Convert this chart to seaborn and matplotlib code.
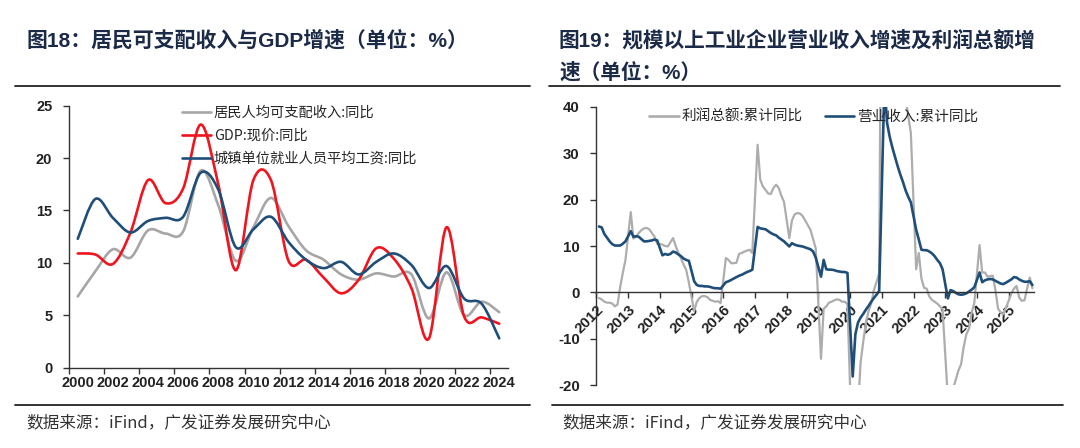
import numpy as np
import pandas as pd
import seaborn as sns
import matplotlib.pyplot as plt
from matplotlib.path import Path
from matplotlib.patches import PathPatch
from matplotlib.lines import Line2D

# ---- left chart: annual growth, %
years = list(range(2000, 2025))
income = [6.8, 9.2, 11.3, 10.5, 13.1, 12.8, 13.0, 18.8, 15.5, 10.2, 13.4, 16.2, 13.5,
          11.2, 10.3, 8.9, 8.4, 9.0, 8.7, 8.9, 4.7, 9.1, 5.0, 6.3, 5.3]
gdp = [10.9, 10.8, 9.9, 12.9, 17.9, 15.7, 17.1, 23.2, 17.5, 9.3, 17.9, 17.9, 10.2,
       10.3, 8.6, 7.1, 8.4, 11.4, 10.4, 7.6, 2.8, 13.4, 4.9, 4.8, 4.2]
wage = [12.3, 16.1, 14.3, 12.9, 14.0, 14.3, 14.4, 18.6, 17.0, 11.5, 13.2, 14.4, 12.0,
        10.3, 9.5, 10.1, 8.9, 10.1, 10.9, 9.8, 7.6, 9.7, 6.6, 6.1, 2.8]
left_names = ['居民人均可支配收入:同比', 'GDP:现价:同比', '城镇单位就业人员平均工资:同比']
left_colors = ['#A6A6A6', '#F0141E', '#1F4E79']

# ---- right chart: cumulative yoy, %, one list per year (Jan-Feb, Mar ... Dec)
months = list(range(2, 13))
revenue = {
    2012: [14.2, 14.0, 12.6, 11.8, 11.0, 10.4, 10.1, 10.1, 10.1, 10.5, 11.0],
    2013: [13.2, 12.0, 12.1, 12.0, 11.5, 11.0, 11.0, 11.1, 11.2, 11.4, 11.2],
    2014: [8.0, 8.3, 8.1, 8.3, 8.8, 8.6, 8.2, 7.8, 7.3, 7.0, 6.8],
    2015: [2.4, 1.6, 1.4, 1.4, 1.3, 1.3, 1.2, 1.0, 0.9, 0.9, 0.8],
    2016: [2.2, 2.4, 2.7, 3.0, 3.3, 3.6, 3.8, 4.1, 4.4, 4.6, 4.9],
    2017: [14.1, 13.8, 13.7, 13.6, 13.2, 12.8, 12.5, 12.3, 11.8, 11.4, 11.0],
    2018: [9.9, 10.6, 10.3, 10.1, 10.0, 9.9, 9.7, 9.5, 9.3, 8.8, 7.5],
    2019: [3.4, 7.0, 5.0, 4.9, 4.9, 4.8, 4.6, 4.5, 4.4, 4.4, 4.2],
    2020: [-18.1, -9.0, -6.5, -5.4, -4.6, -3.7, -2.9, -2.0, -1.2, -0.5, 0.3],
    2021: [45.0, 36.5, 33.5, 31.2, 29.2, 27.2, 25.4, 23.8, 22.0, 20.6, 19.4],
    2022: [13.5, 11.4, 9.2, 9.1, 9.1, 8.8, 8.4, 7.8, 7.0, 6.3, 5.0],
    2023: [-1.3, 0.5, 0.3, -0.1, -0.4, -0.5, -0.4, -0.2, 0.2, 0.6, 1.1],
    2024: [4.3, 2.2, 2.6, 2.8, 2.9, 2.8, 2.5, 2.2, 1.9, 1.8, 2.1],
    2025: [2.8, 3.3, 3.2, 2.8, 2.5, 2.3, 2.3, 2.4, 1.6],
}
profit = {
    2012: [-1.2, -1.5, -2.0, -2.2, -2.2, -2.4, -3.0, -2.6, 1.2, 4.2, 7.0],
    2013: [17.3, 11.6, 12.0, 12.8, 13.4, 13.8, 13.9, 13.6, 12.8, 12.0, 10.5],
    2014: [10.3, 10.0, 9.9, 10.8, 11.7, 10.0, 8.5, 7.4, 6.0, 4.8, 2.1],
    2015: [-4.0, -2.0, -1.2, -0.8, -0.8, -1.0, -1.6, -1.8, -2.0, -1.9, -2.3],
    2016: [7.4, 7.0, 6.3, 6.3, 6.4, 8.3, 8.5, 8.8, 9.0, 9.2, 8.5],
    2017: [31.8, 24.3, 22.8, 22.1, 21.3, 21.2, 22.5, 23.2, 22.5, 20.8, 19.5],
    2018: [11.7, 15.5, 16.8, 17.1, 17.0, 16.5, 15.5, 14.5, 13.5, 11.5, 9.5],
    2019: [-14.3, -3.5, -3.0, -2.2, -2.0, -1.7, -1.5, -1.6, -2.0, -2.0, -2.5],
    2020: [-38.3, -36.7, -25.0, -15.0, -10.5, -6.5, -4.0, -2.4, 0.5, 2.2, 4.1],
    2021: [178.9, 137.3, 106.0, 83.4, 66.9, 57.3, 49.5, 44.7, 42.2, 38.0, 34.3],
    2022: [5.0, 8.5, 3.0, 1.0, 0.8, -0.9, -1.6, -2.0, -2.4, -3.0, -3.6],
    2023: [-22.9, -21.4, -20.6, -18.8, -16.8, -15.5, -11.7, -9.0, -7.8, -4.4, -2.3],
    2024: [10.2, 4.3, 4.3, 3.4, 3.5, 3.6, 0.5, -3.5, -4.3, -4.7, -3.3],
    2025: [-0.3, 0.8, 1.4, -1.1, -1.8, -1.7, 0.9, 3.2, 0.9],
}
right_names = ['利润总额:累计同比', '营业收入:累计同比']
right_colors = ['#ADADAD', '#1F4E79']
right_years = list(range(2012, 2026))

title_l = '图18：居民可支配收入与GDP增速（单位：%）'
title_r1 = '图19：规模以上工业企业营业收入增速及利润总额增'
title_r2 = '速（单位：%）'
source = '数据来源：iFind，广发证券发展研究中心'

sns.set_theme(style='ticks')
plt.rcParams['font.family'] = ['Noto Sans CJK SC', 'DejaVu Sans']
plt.rcParams['axes.unicode_minus'] = False
latin = ['Liberation Sans', 'Noto Sans CJK SC']
title_color = '#1B2A47'

fig = plt.figure(figsize=(10.8, 4.48), dpi=100)


def smooth_path(xs, ys):
    # excel style smoothed line: bezier segments through every point
    n = len(xs)
    verts = [(xs[0], ys[0])]
    codes = [Path.MOVETO]
    for i in range(n - 1):
        a = max(i - 1, 0)
        b = min(i + 2, n - 1)
        c1 = (xs[i] + (xs[i + 1] - xs[a]) / 6, ys[i] + (ys[i + 1] - ys[a]) / 6)
        c2 = (xs[i + 1] - (xs[b] - xs[i]) / 6, ys[i + 1] - (ys[b] - ys[i]) / 6)
        verts += [c1, c2, (xs[i + 1], ys[i + 1])]
        codes += [Path.CURVE4] * 3
    return Path(verts, codes)


def style_ticks(ax, size=10.5):
    for lab in ax.get_xticklabels() + ax.get_yticklabels():
        lab.set_family(latin)
        lab.set_fontweight('bold')
        lab.set_fontsize(size)
        lab.set_color('#222222')


# ---------------- left
ax1 = fig.add_axes([69 / 1080, 80.3 / 448, 439 / 1080, 262 / 448])
handles = []
for vals, name, col in zip([income, gdp, wage], left_names, left_colors):
    ax1.add_patch(PathPatch(smooth_path(years, vals), fill=False, edgecolor=col,
                            lw=1.9, capstyle='round', joinstyle='round'))
    handles.append(Line2D([], [], color=col, lw=1.9, label=name))
for s in ['top', 'right']:
    ax1.spines[s].set_visible(False)
for s in ['left', 'bottom']:
    ax1.spines[s].set_color('#333333')
    ax1.spines[s].set_linewidth(1)
ax1.set_xlim(1999.5, 2024.5)
ax1.set_ylim(0, 25)
ax1.set_yticks(range(0, 26, 5))
ax1.set_xticks(years[::2])
ax1.set_xticks(np.arange(1999.5, 2024, 2), minor=True)
ax1.tick_params(axis='x', which='major', length=0, pad=6)
ax1.tick_params(axis='x', which='minor', length=4, width=1, color='#333333')
ax1.tick_params(axis='y', length=4, width=1, color='#333333', pad=8)
style_ticks(ax1)
ax1.legend(handles=handles, loc='upper left', bbox_to_anchor=(0.245, 1.02),
           frameon=False, fontsize=10.3, handlelength=2.0, handletextpad=0.2,
           labelspacing=0.62, borderaxespad=0)

# ---------------- right
rows = []
for name, table in zip(right_names, [profit, revenue]):
    for yr, vals in table.items():
        for m, v in zip(months, vals):
            rows.append({'t': yr + (m - 1) / 12, 'v': v, 'series': name})
df = pd.DataFrame(rows)

ax2 = fig.add_axes([596.4 / 1080, 62.7 / 448, 437.6 / 1080, 278.6 / 448])
sns.lineplot(data=df, x='t', y='v', hue='series', hue_order=right_names,
             palette=right_colors, ax=ax2, legend=False, estimator=None, sort=False)
lines = ax2.get_lines()
lines[0].set_linewidth(1.6)
lines[1].set_linewidth(1.9)
ax2.set_xlabel('')
ax2.set_ylabel('')
ax2.spines['bottom'].set_position(('data', 0))
for s in ['top', 'right']:
    ax2.spines[s].set_visible(False)
for s in ['left', 'bottom']:
    ax2.spines[s].set_color('#333333')
    ax2.spines[s].set_linewidth(1)
ax2.set_xlim(2012, 2025.8)
ax2.set_ylim(-20, 40)
ax2.set_yticks(range(-20, 41, 10))
ax2.set_xticks(right_years)
ax2.set_xticklabels([str(y) for y in right_years], rotation=45, ha='right',
                    rotation_mode='anchor')
ax2.tick_params(axis='x', length=4, width=1, color='#333333', pad=3)
ax2.tick_params(axis='y', length=4, width=1, color='#333333', pad=8)
style_ticks(ax2, 10.8)
rh = [Line2D([], [], color=c, lw=1.9, label=n) for n, c in zip(right_names, right_colors)]
ax2.legend(handles=rh, loc='upper left', bbox_to_anchor=(0.108, 1.01), ncol=2,
           frameon=False, fontsize=10.5, handlelength=2.0, handletextpad=0.2,
           columnspacing=1.5, borderaxespad=0)

# ---------------- titles, rules, sources
fig.text(27 / 1080, 1 - 40 / 448, title_l, family=latin, fontweight='bold',
         fontsize=15, color=title_color, va='center')
fig.text(559 / 1080, 1 - 40 / 448, title_r1, family=latin, fontweight='bold',
         fontsize=14.9, color=title_color, va='center')
fig.text(559 / 1080, 1 - 72 / 448, title_r2, family=latin, fontweight='bold',
         fontsize=14.9, color=title_color, va='center')
for x0, x1 in [(15, 530), (549, 1060)]:
    fig.add_artist(Line2D([x0 / 1080, x1 / 1080], [1 - 86 / 448] * 2, color='#222222', lw=1.3))
for x0, x1 in [(15, 530), (552, 1063)]:
    fig.add_artist(Line2D([x0 / 1080, x1 / 1080], [1 - 405 / 448] * 2, color='#222222', lw=1.3))
fig.text(26 / 1080, 1 - 423 / 448, source, fontsize=12, color='#333333', va='center')
fig.text(562 / 1080, 1 - 423 / 448, source, fontsize=12, color='#333333', va='center')

fig.savefig('out.png', dpi=100)
